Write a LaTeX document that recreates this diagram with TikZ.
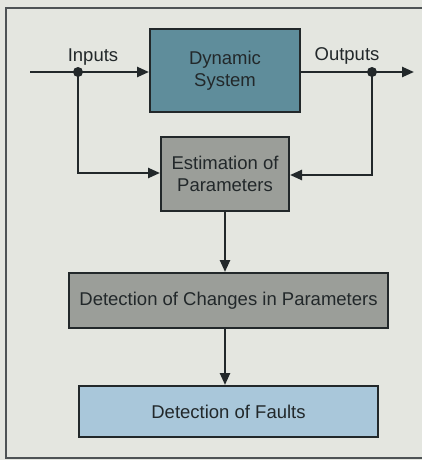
\documentclass[tikz,border=0pt]{standalone}
\usepackage{fontspec}
\setmainfont{Liberation Sans}
\usetikzlibrary{arrows.meta}
\definecolor{bg}{HTML}{E4E6E0}
\definecolor{dyn}{HTML}{5F8D9B}
\definecolor{gbox}{HTML}{9B9E99}
\definecolor{fbox}{HTML}{A9C7DA}
\definecolor{ink}{HTML}{22282A}
\tikzset{
  blk/.style={draw=ink, line width=2pt, align=center, text=ink, inner sep=0pt,
    font=\fontsize{18.5}{22}\selectfont},
  conn/.style={draw=ink, line width=2.4pt, -{Triangle[length=12pt,width=10pt]}},
  wire/.style={draw=ink, line width=2.4pt},
  lbl/.style={text=ink, font=\fontsize{18.5}{22}\selectfont},
  dotn/.style={circle, fill=ink, inner sep=0pt, minimum size=10pt}
}
\begin{document}
\begin{tikzpicture}[x=1pt,y=-1pt]
\useasboundingbox (0,0) rectangle (422,460);
\fill[bg] (0,0) rectangle (422,460);
\draw[ink!80, line width=1.8pt] (430,8) -- (6,8) -- (6,458) -- (430,458);
% blocks
\node[blk, fill=dyn, minimum width=150pt, minimum height=83pt] (dyn) at (225,70.5) {Dynamic\\System};
\node[blk, fill=gbox, minimum width=128pt, minimum height=74pt] (est) at (225,174) {Estimation of\\Parameters};
\node[blk, fill=gbox, minimum width=319pt, minimum height=55pt] (chg) at (228.5,300.5) {Detection of Changes in Parameters};
\node[blk, fill=fbox, minimum width=299pt, minimum height=51pt] (flt) at (228.5,411.5) {Detection of Faults};
% points
\coordinate (inS) at (30,72);
\node[dotn] (inD) at (78,72) {};
\node[dotn] (outD) at (372,72) {};
\coordinate (outE) at (414,72);
\node[lbl] (inL) at (93,57) {Inputs};
\node[lbl] (outL) at (347,56) {Outputs};
% connectors
\draw[wire] (inS) -- (inD.center);
\draw[conn] (inD.center) -- (inD.center -| dyn.west);
\draw[wire] (dyn.east |- outD) -- (outD.center);
\draw[conn] (outD.center) -- (outE);
\draw[conn] (inD.center) |- ([yshift=1pt]est.west);
\draw[conn] (outD.center) |- ([yshift=-1pt]est.east);
\draw[conn] (est.south) -- (est.south |- chg.north);
\draw[conn] (est.south |- chg.south) -- (est.south |- flt.north);
\end{tikzpicture}
\end{document}
